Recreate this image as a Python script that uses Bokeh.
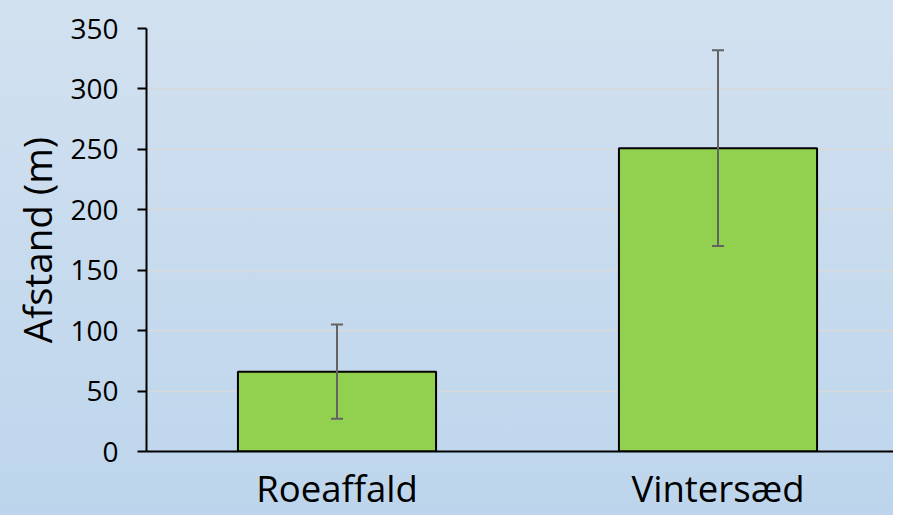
from bokeh.plotting import figure
from bokeh.models import ColumnDataSource, Range1d, FixedTicker, Whisker, TeeHead
from bokeh.embed import file_html
from bokeh.resources import INLINE

# Data
categories = ["Roeaffald", "Vintersæd"]
values = [66, 251]
errors = [39, 81]
y_ticks = [0, 50, 100, 150, 200, 250, 300, 350]
y_label = "Afstand (m)"

xpos = list(range(len(categories)))
src = ColumnDataSource(dict(
    x=xpos,
    top=values,
    lower=[v - e for v, e in zip(values, errors)],
    upper=[v + e for v, e in zip(values, errors)],
))

FONT = "Open Sans"
W, H = 893, 515
LEFT, TOP, BOTTOM = 146, 28, 64
frame_w = W - LEFT
unit = 381

p = figure(width=W, height=H, output_backend="svg", toolbar_location=None,
           x_range=Range1d(-0.5, -0.5 + frame_w / unit), y_range=Range1d(0, y_ticks[-1]),
           min_border_left=LEFT, min_border_right=0, min_border_top=TOP, min_border_bottom=BOTTOM)
p.styles = {"background": "linear-gradient(to bottom, #d2e1f0, #bdd5ec)"}
p.background_fill_alpha = 0
p.border_fill_alpha = 0
p.outline_line_color = None

p.vbar(x="x", top="top", bottom=0, width=0.52, source=src,
       fill_color="#92d050", line_color="#000000", line_width=2)

w = Whisker(base="x", lower="lower", upper="upper", source=src,
            line_color="#636363", line_width=2, level="overlay",
            upper_head=TeeHead(size=12, line_color="#636363", line_width=2),
            lower_head=TeeHead(size=12, line_color="#636363", line_width=2))
p.add_layout(w)

# y axis
p.yaxis.ticker = FixedTicker(ticks=y_ticks)
p.yaxis.axis_line_color = "#000000"
p.yaxis.axis_line_width = 2
p.yaxis.major_tick_line_color = "#000000"
p.yaxis.major_tick_line_width = 2
p.yaxis.major_tick_out = 9
p.yaxis.major_tick_in = 0
p.yaxis.minor_tick_line_color = None
p.yaxis.major_label_text_font = FONT
p.yaxis.major_label_text_font_size = "28px"
p.yaxis.major_label_text_color = "#000000"
p.yaxis.major_label_standoff = 19
p.yaxis.axis_label = y_label
p.yaxis.axis_label_text_font = FONT
p.yaxis.axis_label_text_font_size = "38.5px"
p.yaxis.axis_label_text_font_style = "normal"
p.yaxis.axis_label_text_color = "#000000"
p.yaxis.axis_label_standoff = 4

# x axis with category labels
p.xaxis.ticker = FixedTicker(ticks=xpos)
p.xaxis.major_label_overrides = {i: c for i, c in zip(xpos, categories)}
p.xaxis.axis_line_color = "#000000"
p.xaxis.axis_line_width = 2
p.xaxis.major_tick_line_color = None
p.xaxis.major_tick_out = 0
p.xaxis.major_tick_in = 0
p.xaxis.minor_tick_line_color = None
p.xaxis.major_label_text_font = FONT
p.xaxis.major_label_text_font_size = "36.5px"
p.xaxis.major_label_text_color = "#000000"
p.xaxis.major_label_standoff = 11

p.xgrid.grid_line_color = None
p.ygrid.ticker = FixedTicker(ticks=y_ticks[1:])
p.ygrid.grid_line_color = "#d9d9d9"
p.ygrid.grid_line_width = 1.5

open("out.html", "w").write(file_html(p, INLINE))
